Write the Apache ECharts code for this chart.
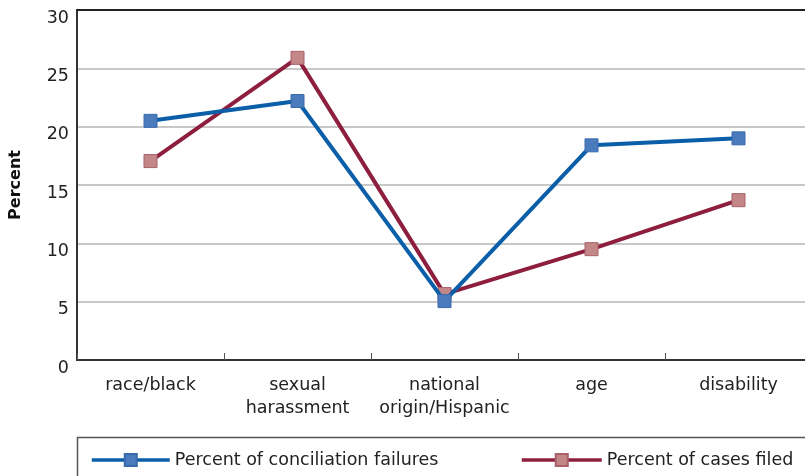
<!DOCTYPE html>
<html><head><meta charset="utf-8">
<script src="https://cdn.jsdelivr.net/npm/echarts@6/dist/echarts.min.js"></script>
<style>html,body{margin:0;padding:0;background:#fff}#c{width:805px;height:476px}</style>
</head><body><div id="c"></div>
<script>
var categories = ['race/black', 'sexual\nharassment', 'national\norigin/Hispanic', 'age', 'disability'];
var conciliationFailures = [20.5, 22.2, 5.05, 18.4, 19.0];
var casesFiled = [17.05, 25.9, 5.65, 9.5, 13.7];
var yTicks = {min: 0, max: 30, interval: 5};
var seriesNames = ['Percent of conciliation failures', 'Percent of cases filed'];

var font = 'DejaVu Sans';
var chart = echarts.init(document.getElementById('c'));
chart.setOption({
  animation: false,
  backgroundColor: '#fff',
  textStyle: {fontFamily: font},
  grid: {left: 77, top: 10, width: 735, height: 350, outerBoundsMode: 'none', containLabel: false},
  xAxis: [{
    type: 'category', data: categories, boundaryGap: true,
    axisLine: {lineStyle: {color: '#333', width: 2}},
    axisTick: {show: true, inside: true, length: 7, lineStyle: {color: '#555', width: 1}},
    axisLabel: {color: '#222', fontSize: 17.5, fontFamily: font, margin: 14, lineHeight: 23, interval: 0}
  }, {
    type: 'category', data: categories, position: 'top', boundaryGap: true,
    axisLine: {show: true, lineStyle: {color: '#222', width: 2}},
    axisTick: {show: false}, axisLabel: {show: false}, splitLine: {show: false}
  }],
  yAxis: {
    type: 'value', min: yTicks.min, max: yTicks.max, interval: yTicks.interval,
    name: 'Percent', nameLocation: 'middle', nameGap: 53,
    nameTextStyle: {fontWeight: 'bold', fontSize: 16, color: '#111', fontFamily: font},
    axisLine: {show: true, lineStyle: {color: '#333', width: 2}},
    axisTick: {show: false},
    axisLabel: {color: '#222', fontSize: 17.5, fontFamily: font, margin: 8, verticalAlign: 'top', lineHeight: 16},
    splitLine: {lineStyle: {color: '#c8c8c8', width: 2}}
  },
  legend: [
    {data: [seriesNames[0]], left: 85, top: 446, itemWidth: 78, itemHeight: 15, itemGap: 10,
     lineStyle: {width: 3.5}, textStyle: {fontSize: 17.5, color: '#222', fontFamily: font}},
    {data: [seriesNames[1]], left: 515, top: 446, itemWidth: 80, itemHeight: 15, itemGap: 10,
     lineStyle: {width: 3.5}, textStyle: {fontSize: 17.5, color: '#222', fontFamily: font}}
  ],
  graphic: [{type: 'rect', shape: {x: 77.5, y: 437.5, width: 760, height: 60},
    style: {fill: 'none', stroke: '#555', lineWidth: 1.5}, silent: true}],
  series: [
    {name: seriesNames[0], type: 'line', data: conciliationFailures, symbol: 'rect', symbolSize: 13,
     lineStyle: {color: '#0b5ea8', width: 4}, itemStyle: {color: '#4a7bbd', borderColor: '#3a6aac', borderWidth: 1}, z: 3},
    {name: seriesNames[1], type: 'line', data: casesFiled, symbol: 'rect', symbolSize: 13,
     lineStyle: {color: '#8e1e3e', width: 4}, itemStyle: {color: '#c48787', borderColor: '#a8606a', borderWidth: 1}, z: 2}
  ]
});
</script></body></html>
